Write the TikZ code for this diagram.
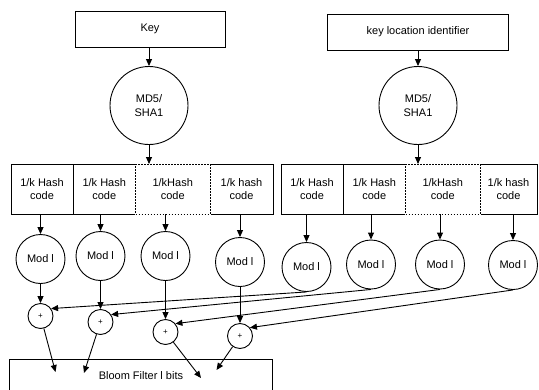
\documentclass[tikz,border=0pt]{standalone}
\usepackage{fontspec}
\setmainfont{Liberation Sans}
\usetikzlibrary{positioning,arrows.meta}
\tikzset{
  input box/.style={
    draw,
    minimum width={#1pt},
    minimum height={36pt},
  },
  hash box/.style={
    draw,
    outer sep=0pt,
    align=center,
    minimum width={#1pt},
    minimum height={50pt},
  },
  part box/.style={
    hash box=#1,
    fill=white,
    dash pattern=on 1.5pt off 1.5pt,
    preaction={draw=white, solid, line width=1.8pt},
  },
  digest/.style={
    circle,
    draw,
    align=center,
    inner sep=0pt,
    minimum size=78pt,
  },
  modulo/.style={
    circle,
    draw,
    inner sep=0pt,
    minimum size=49pt,
  },
  adder/.style={
    circle,
    draw,
    inner sep=0pt,
    minimum size=25pt,
    font=\fontsize{8}{9}\selectfont,
  },
  flow/.style={
    -{Triangle[length=7pt,width=6pt]},
  }
}

\begin{document}
\begin{tikzpicture}[x=1pt, y=-1pt, node distance=0pt, line width=0.9pt,
    font=\fontsize{11}{13.5}\selectfont]
        \useasboundingbox (0,0) rectangle (539,389);

        \node [input box=150] (key) at (150,29) {Key};
        \node [input box=181.5] (loc) at (418,32) {key location identifier};
        \node [digest] (md1) at (149,105.5) {MD5/\\SHA1};
        \node [digest] (md2) at (418,105.5) {MD5/\\SHA1};

        \node [hash box=62, anchor=west] (h1) at (11,189) {1/k Hash\\code};
        \node [hash box=62.5, right=of h1] (h2) {1/k Hash\\code};
        \node [hash box=63, right=74.5pt of h2] (h4) {1/k hash\\code};
        \node [part box=74.5, right=of h2] (h3) {1/kHash\\code};

        \node [hash box=62, anchor=west] (g1) at (281,189) {1/k Hash\\code};
        \node [hash box=62.5, right=of g1] (g2) {1/k Hash\\code};
        \node [hash box=57, right=74.5pt of g2] (g4) {1/k hash\\code};
        \node [part box=74.5, right=of g2] (g3) {1/kHash\\code};

        \node [modulo] (m1) at (40.5,259) {Mod l};
        \node [modulo] (m2) at (100.5,256) {Mod l};
        \node [modulo] (m3) at (165.5,256) {Mod l};
        \node [modulo] (m4) at (240,262) {Mod l};
        \node [modulo] (n1) at (306.5,267) {Mod l};
        \node [modulo] (n2) at (371,264.5) {Mod l};
        \node [modulo] (n3) at (440,264.5) {Mod l};
        \node [modulo] (n4) at (513,265) {Mod l};

        \node [adder] (p1) at (40.5,316) {+};
        \node [adder] (p2) at (100.5,322) {+};
        \node [adder] (p3) at (165.5,332) {+};
        \node [adder] (p4) at (240,336) {+};

        \node [draw, anchor=north west, minimum width=263pt, minimum height=32pt]
            (bloom) at (9,359) {Bloom Filter l bits};
        \coordinate (b1) at (55.5,372);
        \coordinate (b2) at (84,373);
        \coordinate (b3) at (201,378);
        \coordinate (b4) at (216.5,370);

        \draw [flow] (md1 |- key.south) -- (md1);
        \draw [flow] (md1) -- (md1 |- h3.north);
        \draw [flow] (md2 |- loc.south) -- (md2);
        \draw [flow] (md2) -- (md2 |- g3.north);

        \draw [flow] (m1 |- h1.south) -- (m1);
        \draw [flow] (m2 |- h2.south) -- (m2);
        \draw [flow] (m3 |- h3.south) -- (m3);
        \draw [flow] (m4 |- h4.south) -- (m4);
        \draw [flow] (n1 |- g1.south) -- (n1);
        \draw [flow] (n2 |- g2.south) -- (n2);
        \draw [flow] (n3 |- g3.south) -- (n3);
        \draw [flow] (n4 |- g4.south) -- (n4);

        \draw [flow] (m1) -- (p1);
        \draw [flow] (m2) -- (p2);
        \draw [flow] (m3) -- (p3);
        \draw [flow] (m4) -- (p4);
        \draw [flow] (n1.south) -- (p1.35);
        \draw [flow] (n2.south) -- (p2.35);
        \draw [flow] (n3.south) -- (p3.40);
        \draw [flow] (n4.south) -- (p4.40);

        \draw [flow] (p1) -- (b1);
        \draw [flow] (p2) -- (b2);
        \draw [flow] (p3) -- (b3);
        \draw [flow] (p4) -- (b4);
    \end{tikzpicture}
\end{document}
